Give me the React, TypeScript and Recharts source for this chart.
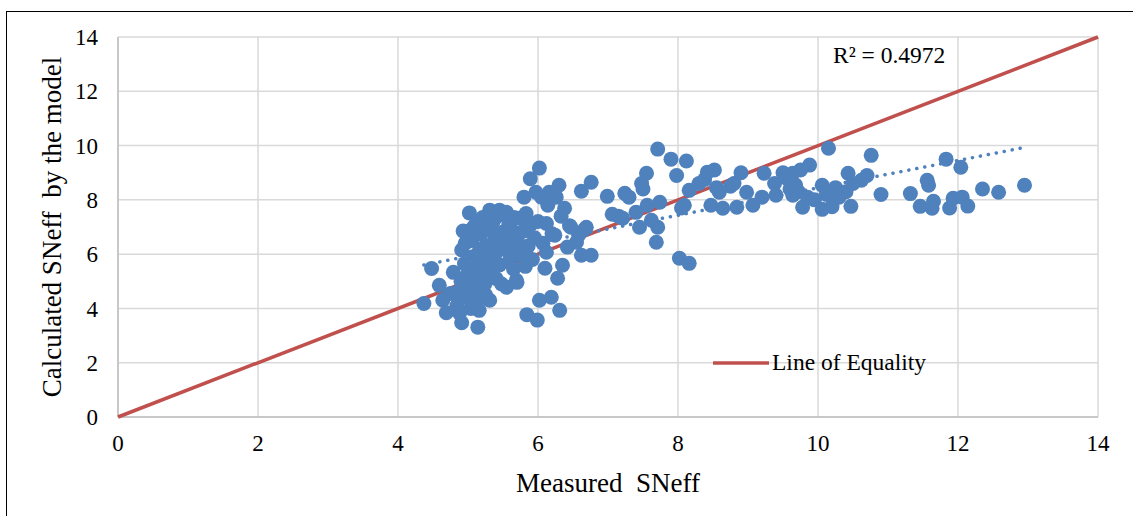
import {
  ScatterChart,
  Scatter,
  XAxis,
  YAxis,
  CartesianGrid,
} from "recharts";

// measured vs calculated SNeff, grouped by measured range
const group4to5: [number, number][] = [
  [4.37, 4.18], [4.48, 5.47], [4.59, 4.85], [4.64, 4.3], [4.69, 3.84],
  [4.75, 4.55], [4.79, 5.33], [4.84, 4.1], [4.88, 3.82], [4.91, 3.47],
  [4.92, 4.92], [4.91, 6.15], [4.93, 6.85], [4.95, 5.65], [4.97, 4.4],
  [4.98, 5.2], [4.9, 5.0], [4.96, 6.4], [4.85, 4.6],
];

const group5to55: [number, number][] = [
  [5.02, 7.52], [5.03, 5.52], [5.05, 6.5], [5.06, 4.65], [5.07, 5.9],
  [5.08, 7.0], [5.1, 4.2], [5.12, 4.67], [5.12, 7.13], [5.14, 3.31],
  [5.15, 5.3], [5.16, 3.93], [5.17, 6.2], [5.18, 6.75], [5.2, 5.0],
  [5.21, 7.35], [5.22, 5.7], [5.25, 4.5], [5.26, 6.32], [5.28, 6.9],
  [5.3, 6.88], [5.31, 7.62], [5.31, 4.3], [5.33, 5.9], [5.35, 5.34],
  [5.36, 7.2], [5.38, 6.5], [5.4, 6.05], [5.42, 7.4], [5.45, 7.62],
  [5.45, 5.6], [5.47, 6.8], [5.48, 4.9], [5.04, 4.0], [5.1, 5.1],
  [5.14, 6.0], [5.24, 4.9], [5.19, 4.4], [5.29, 5.5], [5.34, 7.55],
  [5.4, 5.1], [5.05, 6.9],
];

const group55to6: [number, number][] = [
  [5.52, 6.3], [5.55, 6.15], [5.55, 7.54], [5.55, 4.78], [5.58, 7.05],
  [5.59, 7.25], [5.6, 5.8], [5.62, 6.6], [5.65, 5.45], [5.66, 7.35],
  [5.69, 5.04], [5.7, 4.96], [5.71, 6.45], [5.73, 6.77], [5.73, 7.32],
  [5.75, 5.95], [5.78, 6.03], [5.8, 8.1], [5.8, 6.85], [5.82, 5.55],
  [5.83, 7.5], [5.84, 3.77], [5.86, 6.3], [5.89, 8.78], [5.9, 7.1],
  [5.92, 5.8], [5.95, 6.6], [5.97, 8.28], [5.99, 3.57], [6.0, 7.2],
  [5.6, 7.0], [5.68, 6.2],
];

const group6to7: [number, number][] = [
  [6.02, 9.17], [6.02, 4.3], [6.05, 8.1], [6.07, 6.4], [6.1, 5.48],
  [6.12, 6.07], [6.12, 7.13], [6.14, 7.8], [6.16, 8.28], [6.19, 4.41],
  [6.2, 6.75], [6.24, 6.7], [6.26, 8.1], [6.28, 5.11], [6.3, 8.54],
  [6.31, 3.93], [6.33, 7.4], [6.35, 5.59], [6.38, 7.69], [6.42, 6.26],
  [6.45, 7.05], [6.47, 6.99], [6.55, 6.44], [6.58, 6.7], [6.62, 8.32],
  [6.62, 5.96], [6.66, 6.9], [6.69, 6.99], [6.76, 8.65], [6.76, 5.96],
  [6.99, 8.13],
];

const group7to9: [number, number][] = [
  [7.06, 7.47], [7.15, 7.4], [7.21, 7.32], [7.24, 8.24], [7.3, 8.1],
  [7.4, 7.54], [7.45, 6.99], [7.48, 8.6], [7.5, 8.4], [7.55, 8.98],
  [7.56, 7.8], [7.62, 7.25], [7.69, 6.44], [7.71, 6.99], [7.71, 9.87],
  [7.74, 7.91], [7.9, 9.5], [7.98, 8.9], [8.02, 5.85], [8.05, 7.7],
  [8.09, 7.8], [8.12, 9.43], [8.16, 5.66], [8.16, 8.35], [8.3, 8.6],
  [8.38, 8.75], [8.42, 9.02], [8.47, 7.8], [8.52, 9.1], [8.55, 8.45],
  [8.59, 8.28], [8.64, 7.69], [8.75, 8.5], [8.8, 8.6], [8.84, 7.73],
  [8.9, 9.0], [8.98, 8.28],
];

const group9to11: [number, number][] = [
  [9.07, 7.8], [9.2, 8.1], [9.23, 8.98], [9.38, 8.6], [9.4, 8.17],
  [9.5, 9.0], [9.55, 8.8], [9.6, 8.4], [9.64, 8.98], [9.64, 8.17],
  [9.68, 8.55], [9.72, 8.3], [9.75, 9.1], [9.78, 7.73], [9.85, 8.1],
  [9.88, 9.28], [9.95, 8.0], [10.06, 7.65], [10.06, 8.54], [10.12, 8.2],
  [10.15, 9.9], [10.2, 7.75], [10.25, 8.45], [10.3, 8.1], [10.4, 8.3],
  [10.43, 8.98], [10.47, 7.76], [10.5, 8.6], [10.62, 8.72], [10.7, 8.9],
  [10.76, 9.64], [10.9, 8.2],
];

const group11up: [number, number][] = [
  [11.32, 8.23], [11.46, 7.76], [11.56, 8.72], [11.58, 8.54], [11.65, 7.95],
  [11.63, 7.69], [11.83, 9.5], [11.88, 7.7], [11.93, 8.06], [12.04, 9.2],
  [12.06, 8.1], [12.14, 7.77], [12.35, 8.4], [12.58, 8.28], [12.95, 8.54],
];

// linear trendline endpoints
const trendEnds: [number, number][] = [[4.37, 5.6], [12.95, 9.93]];
const equalityEnds: [number, number][] = [[0, 0], [14, 14]];

const axisTicks = [0, 2, 4, 6, 8, 10, 12, 14];

const toXY = (pts: [number, number][]) => pts.map(([x, y]) => ({ x, y }));

const scatterData = toXY([
  ...group4to5,
  ...group5to55,
  ...group55to6,
  ...group6to7,
  ...group7to9,
  ...group9to11,
  ...group11up,
]);

const FONT = '"Liberation Serif", "Times New Roman", serif';
const BLUE = "#4F81BD";
const RED = "#C0504D";

const Dot = (props: any) => (
  <circle cx={props.cx} cy={props.cy} r={7.5} fill={BLUE} />
);

export default function App() {
  return (
    <div style={{ position: "absolute", left: 0, top: 0, width: 1133, height: 516, background: "#fff", overflow: "hidden" }}>
      <div
        style={{
          position: "absolute",
          left: 6,
          top: 11,
          width: 1200,
          height: 600,
          borderLeft: "1.5px solid #000",
          borderTop: "1.5px solid #000",
        }}
      />
      <ScatterChart
        width={1133}
        height={516}
        margin={{ top: 37, right: 35, bottom: 0, left: 0 }}
        style={{ fontFamily: FONT }}
      >
        <CartesianGrid stroke="#d9d9d9" strokeWidth={1.5} />
        <XAxis
          type="number"
          dataKey="x"
          height={99}
          domain={[0, 14]}
          ticks={axisTicks}
          tickLine={false}
          tickSize={8}
          tickMargin={10}
          axisLine={{ stroke: "#bfbfbf", strokeWidth: 1.5 }}
          tick={{ fill: "#000", fontSize: 23, fontFamily: FONT }}
          label={{
            value: "Measured\u00A0\u00A0SNeff",
            position: "insideBottom",
            offset: 24,
            fill: "#000",
            fontSize: 27,
            fontFamily: FONT,
          }}
        />
        <YAxis
          type="number"
          dataKey="y"
          width={118}
          domain={[0, 14]}
          ticks={axisTicks}
          tickLine={false}
          tickSize={8}
          tickMargin={12}
          axisLine={{ stroke: "#bfbfbf", strokeWidth: 1.5 }}
          tick={{ fill: "#000", fontSize: 23, fontFamily: FONT }}
          label={{
            value: "Calculated SNeff\u00A0\u00A0by the model",
            angle: -90,
            position: "insideLeft",
            offset: 51,
            fill: "#000",
            fontSize: 27,
            fontFamily: FONT,
            style: { textAnchor: "middle" },
          }}
        />
        <Scatter
          data={toXY(equalityEnds)}
          line={{ stroke: RED, strokeWidth: 3.5 }}
          shape={() => <g />}
          legendType="none"
          isAnimationActive={false}
        />
        <Scatter
          data={scatterData}
          shape={Dot}
          legendType="none"
          isAnimationActive={false}
        />
        <Scatter
          data={toXY(trendEnds)}
          line={{ stroke: BLUE, strokeWidth: 3.5, strokeDasharray: "0.1 8", strokeLinecap: "round" }}
          shape={() => <g />}
          legendType="none"
          isAnimationActive={false}
        />
      </ScatterChart>
      <div
        style={{
          position: "absolute",
          left: 713,
          top: 349,
          display: "flex",
          alignItems: "center",
          fontFamily: FONT,
          fontSize: 23.5,
          color: "#000",
        }}
      >
        <svg width={56} height={6}>
          <line x1={0} y1={3} x2={56} y2={3} stroke={RED} strokeWidth={3.5} />
        </svg>
        <span style={{ marginLeft: 3 }}>Line of Equality</span>
      </div>
      <div
        style={{
          position: "absolute",
          left: 833,
          top: 42,
          fontFamily: FONT,
          fontSize: 23.5,
          color: "#000",
          whiteSpace: "pre",
        }}
      >
        R² = 0.4972
      </div>
    </div>
  );
}
